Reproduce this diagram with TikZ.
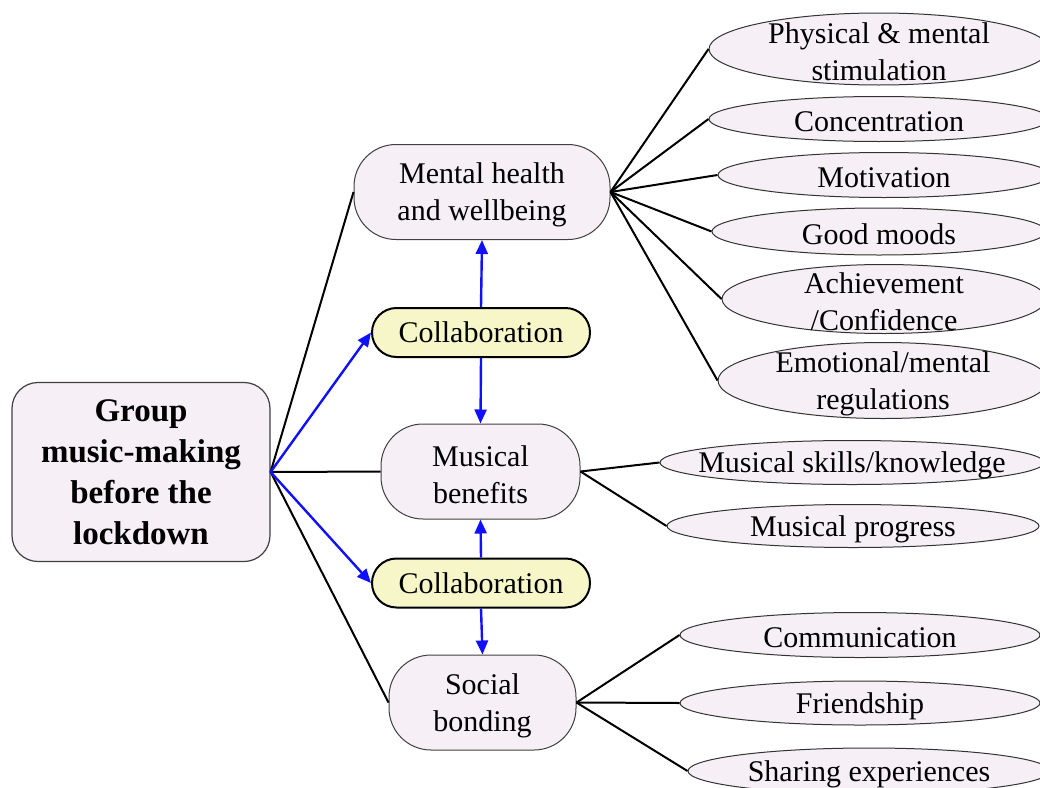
\documentclass[tikz,border=0pt]{standalone}
\usepackage{fontspec}
\setmainfont{Liberation Serif}
\usetikzlibrary{arrows.meta,shapes.geometric,shapes.misc}
\definecolor{lav}{HTML}{F6EFF6}
\definecolor{pale}{HTML}{F7F6C8}
\definecolor{arrowblue}{HTML}{1010FF}
\begin{document}
\begin{tikzpicture}[x=1pt,y=-1pt,
  txt/.style={font=\fontsize{30}{37}\selectfont, align=center, inner sep=0pt},
  rootbox/.style={draw=black!75, line width=1.2pt, fill=lav, rounded corners=26pt,
    minimum width=258pt, minimum height=179pt, inner sep=0pt, align=center,
    font=\fontsize{33}{41}\selectfont\bfseries},
  % boxes keep their given size; the text sits on top as a label
  ltext/.style={label={[txt,yshift=-3pt]center:{#1}}},
  midbox/.style 2 args={draw=black!75, line width=1pt, fill=lav, rounded corners=42pt,
    inner sep=0pt, minimum width=#1, minimum height=#2},
  collab/.style={txt, rounded rectangle, draw=black, line width=2pt, fill=pale,
    minimum width=218pt, minimum height=49pt},
  leaf/.style 2 args={ellipse, draw=black!80, line width=1pt, fill=lav, inner sep=0pt,
    minimum width=#1, minimum height=#2},
  link/.style={line width=2pt, black},
  bluearrow/.style={line width=2.4pt, arrowblue, -{Triangle[length=14pt,width=12pt]}}
]
\useasboundingbox (0,0) rectangle (1040,787);

% central topic
\node[rootbox] (root) at (141,472) {Group\\music-making\\before the\\lockdown};

% main branches
\node[midbox={256pt}{95pt}, ltext={Mental health\\and wellbeing}] (mh) at (482,192) {};
\node[midbox={199pt}{95pt}, ltext={Musical\\benefits}] (mb) at (480.5,471.5) {};
\node[midbox={187pt}{95pt}, ltext={Social\\bonding}] (sb) at (482.5,702.5) {};

% collaboration links
\node[collab] (c1) at (481,332.5) {Collaboration};
\node[collab] (c2) at (481,583) {Collaboration};

% leaves of mental health
\node[leaf={340pt}{72pt}, ltext={Physical \& mental\\stimulation}] (l1) at (879,49) {};
\node[leaf={340pt}{45pt}, ltext={Concentration}] (l2) at (879,119) {};
\node[leaf={332pt}{45pt}, ltext={Motivation}] (l3) at (884,175) {};
\node[leaf={334pt}{47pt}, ltext={Good moods}] (l4) at (879,231.5) {};
\node[leaf={324pt}{69pt}, ltext={Achievement\\/Confidence}] (l5) at (884,299) {};
\node[leaf={330pt}{76pt}, ltext={Emotional/mental\\regulations}] (l6) at (883,380.5) {};

% leaves of musical benefits
\node[leaf={384pt}{44pt}, ltext={Musical skills/knowledge}] (m1) at (852,462.5) {};
\node[leaf={372pt}{43pt}, ltext={Musical progress}] (m2) at (853,526) {};

% leaves of social bonding
\node[leaf={360pt}{45pt}, ltext={Communication}] (s1) at (860,635) {};
\node[leaf={360pt}{44pt}, ltext={Friendship}] (s2) at (860,703) {};
\node[leaf={362pt}{46pt}, ltext={Sharing experiences}] (s3) at (869,771) {};

% connectors from the central topic
\draw[link] (root.east) -- (mh.west);
\draw[link] (root.east) -- (mb.west);
\draw[link] (root.east) -- (sb.west);
\draw[bluearrow] (root.east) -- (c1.west);
\draw[bluearrow] (root.east) -- (c2.west);

% collaboration arrows
\draw[bluearrow] (c1.north) -- (mh.south);
\draw[bluearrow] (c1.south) -- (mb.north);
\draw[bluearrow] (c2.north) -- (mb.south);
\draw[bluearrow] (c2.south) -- (sb.north);

% branch to leaf connectors
\foreach \l in {l1,l2,l3,l4,l5,l6} \draw[link] (mh.east) -- (\l.west);
\foreach \l in {m1,m2} \draw[link] (mb.east) -- (\l.west);
\foreach \l in {s1,s2,s3} \draw[link] (sb.east) -- (\l.west);
\end{tikzpicture}
\end{document}
